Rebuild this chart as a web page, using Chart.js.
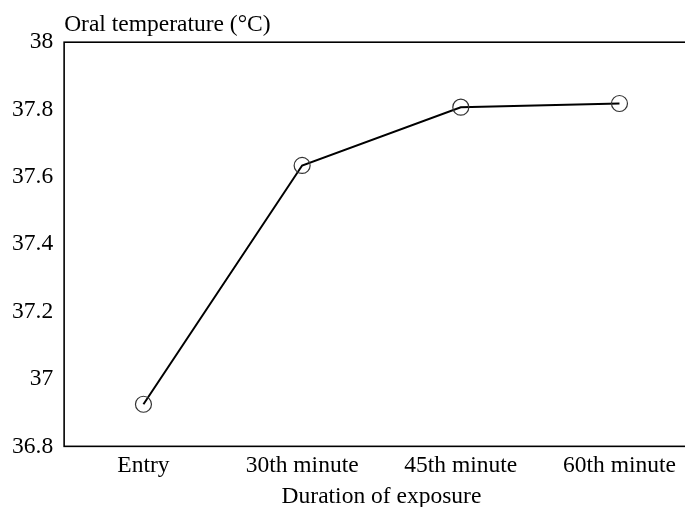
<!DOCTYPE html>
<html>
<head>
<meta charset="utf-8">
<script src="https://cdn.jsdelivr.net/npm/chart.js@4/dist/chart.umd.min.js"></script>
<style>
  body { margin: 0; overflow: hidden; background: #fff; }
  #wrap { width: 708px; height: 507px; }
</style>
</head>
<body>
<div id="wrap"><canvas id="tempChart"></canvas></div>
<script>
const categories = ["Entry", "30th minute", "45th minute", "60th minute"];
const temperatures = [36.925, 37.634, 37.807, 37.818];
const yTicks = [36.8, 37, 37.2, 37.4, 37.6, 37.8, 38];

const fontFamily = "'Liberation Serif', 'Times New Roman', serif";
const fontSize = 23.5;

// full box around the plot area
const boxPlugin = {
    id: "box",
    afterDraw(chart) {
        const a = chart.chartArea;
        const ctx = chart.ctx;
        ctx.save();
        ctx.strokeStyle = "#000";
        ctx.lineWidth = 1.6;
        ctx.strokeRect(a.left, a.top, a.right - a.left, a.bottom - a.top);
        ctx.restore();
    }
};

const ctx = document.getElementById("tempChart").getContext("2d");

new Chart(ctx, {
    type: "line",
    data: {
        labels: categories,
        datasets: [{
            data: temperatures,
            borderColor: "#000",
            borderWidth: 2,
            tension: 0,
            pointRadius: 8,
            pointBorderWidth: 1.2,
            pointBorderColor: "#333",
            pointBackgroundColor: "rgba(0,0,0,0)"
        }]
    },
    options: {
        responsive: true,
        maintainAspectRatio: false,
        animation: false,
        layout: { padding: { left: 1, right: 0, top: 2, bottom: 0 } },
        plugins: {
            legend: { display: false },
            tooltip: { enabled: false },
            title: {
                display: true,
                text: "Oral temperature (°C)",
                align: "start",
                fullSize: false,
                color: "#000",
                font: { family: fontFamily, size: fontSize, weight: "normal" },
                padding: { top: 9, bottom: 3 }
            }
        },
        scales: {
            x: {
                offset: true,
                grid: { display: false, drawTicks: false },
                border: { display: false },
                ticks: {
                    color: "#000",
                    padding: 8,
                    font: { family: fontFamily, size: fontSize, lineHeight: 1 }
                },
                title: {
                    display: true,
                    text: "Duration of exposure",
                    color: "#000",
                    font: { family: fontFamily, size: fontSize, lineHeight: 0.9 },
                    padding: { top: 0, bottom: 0 }
                }
            },
            y: {
                min: 36.8,
                max: 38,
                grid: { display: false, drawTicks: false },
                border: { display: false },
                afterBuildTicks: axis => {
                    axis.ticks = yTicks.map(v => ({ value: v }));
                },
                ticks: {
                    color: "#000",
                    padding: 11,
                    font: { family: fontFamily, size: fontSize },
                    callback: v => String(+v.toFixed(1))
                }
            }
        }
    },
    plugins: [boxPlugin]
});
</script>
</body>
</html>
